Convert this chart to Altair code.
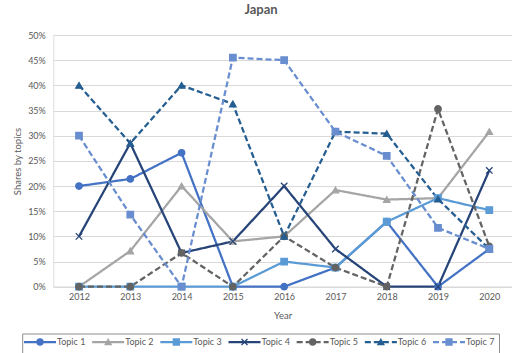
import altair as alt
import pandas as pd

# Shares of each topic per year (fractions of 1)
years = ["2012", "2013", "2014", "2015", "2016", "2017", "2018", "2019", "2020"]
topics = ["Topic 1", "Topic 2", "Topic 3", "Topic 4", "Topic 5", "Topic 6", "Topic 7"]

topic_1 = [0.200, 0.214, 0.266, 0.000, 0.000, 0.038, 0.129, 0.000, 0.075]
topic_2 = [0.000, 0.071, 0.200, 0.090, 0.100, 0.192, 0.173, 0.176, 0.308]
topic_3 = [0.000, 0.000, 0.000, 0.000, 0.050, 0.038, 0.129, 0.176, 0.152]
topic_4 = [0.100, 0.285, 0.067, 0.090, 0.200, 0.075, 0.000, 0.000, 0.231]
topic_5 = [0.000, 0.000, 0.067, 0.000, 0.100, 0.038, 0.000, 0.353, 0.080]
topic_6 = [0.400, 0.285, 0.400, 0.363, 0.100, 0.308, 0.304, 0.174, 0.075]
topic_7 = [0.300, 0.143, 0.000, 0.455, 0.450, 0.308, 0.260, 0.117, 0.075]

series = [topic_1, topic_2, topic_3, topic_4, topic_5, topic_6, topic_7]

y_ticks = [0, 0.05, 0.10, 0.15, 0.20, 0.25, 0.30, 0.35, 0.40, 0.45, 0.50]

colors = ["#4472C4", "#A5A5A5", "#5B9BD5", "#264478", "#636363", "#255E91", "#698ED0"]
shapes = ["circle", "triangle-up", "square", "M-1,-1L1,1M-1,1L1,-1",
          "circle", "triangle-up", "square"]
dashes = [[1, 0], [1, 0], [1, 0], [1, 0], [6, 3], [6, 3], [6, 3]]

FONT = "Lato"
TEXT_GREY = "#595959"
GRID_GREY = "#D9D9D9"

rows = []
for name, values in zip(topics, series):
    for yr, v in zip(years, values):
        rows.append({"year": yr, "topic": name, "share": v})
df = pd.DataFrame(rows)
legend_df = pd.DataFrame({"topic": topics})

color_scale = alt.Scale(domain=topics, range=colors)
shape_scale = alt.Scale(domain=topics, range=shapes)
dash_scale = alt.Scale(domain=topics, range=dashes)

x_scale = alt.Scale(type="point", padding=0.472, align=0.531)
y_scale = alt.Scale(domain=[0, 0.5])

x_axis = alt.Axis(
    title="Year", labelAngle=0, ticks=False, grid=False,
    domainColor=GRID_GREY, labelColor=TEXT_GREY, labelFontSize=9,
    labelPadding=6, titleFontSize=9.5, titleColor=TEXT_GREY,
    titleFontWeight="normal", titleY=29, titleBaseline="middle",
)
y_axis = alt.Axis(
    title="Shares by topics", format=".0%", values=y_ticks,
    grid=True, gridColor=GRID_GREY, domain=False, ticks=False,
    labelOverlap=False, labelColor=TEXT_GREY, labelFontSize=9, labelPadding=8,
    titleFontSize=9.5, titleColor=TEXT_GREY, titleFontWeight="normal",
    titleX=-36, titleY=126, titleAngle=-90, titleBaseline="middle",
    titleAlign="center",
)

base = alt.Chart(df)

lines = base.mark_line(strokeWidth=2.25).encode(
    x=alt.X("year:O", scale=x_scale, axis=x_axis),
    y=alt.Y("share:Q", scale=y_scale, axis=y_axis),
    color=alt.Color("topic:N", scale=color_scale, legend=None),
    strokeDash=alt.StrokeDash("topic:N", scale=dash_scale, legend=None),
)

points = base.mark_point(filled=True, size=42, strokeWidth=1.3, opacity=1).encode(
    x=alt.X("year:O", scale=x_scale, axis=x_axis),
    y=alt.Y("share:Q", scale=y_scale, axis=y_axis),
    color=alt.Color("topic:N", scale=color_scale, legend=None),
    stroke=alt.Stroke("topic:N", scale=color_scale, legend=None),
    shape=alt.Shape("topic:N", scale=shape_scale, legend=None),
)

plot = alt.layer(lines, points)

# Legend row below the plot, laid out on its own point scale of topics
leg_x = alt.X("topic:N", scale=alt.Scale(type="point", domain=topics,
                                         range=[-13.3, 395.7], padding=0),
              axis=None)
LEG_Y = 307

leg_lines = alt.Chart(legend_df).mark_rule(strokeWidth=2.25, xOffset=-16, x2Offset=16).encode(
    x=leg_x,
    x2=alt.X2("topic:N"),
    y=alt.value(LEG_Y),
    color=alt.Color("topic:N", scale=color_scale, legend=None),
    strokeDash=alt.StrokeDash("topic:N", scale=dash_scale, legend=None),
)
leg_points = alt.Chart(legend_df).mark_point(filled=True, size=36, strokeWidth=1.3, opacity=1).encode(
    x=leg_x,
    y=alt.value(LEG_Y),
    color=alt.Color("topic:N", scale=color_scale, legend=None),
    stroke=alt.Stroke("topic:N", scale=color_scale, legend=None),
    shape=alt.Shape("topic:N", scale=shape_scale, legend=None),
)
leg_text = alt.Chart(legend_df).mark_text(
    align="left", baseline="middle", dx=17, fontSize=9, color=TEXT_GREY, font=FONT
).encode(x=leg_x, y=alt.value(LEG_Y), text="topic:N")

leg_box = alt.Chart(pd.DataFrame({"box": [0]})).mark_rect(
    filled=False, stroke="#8C8C8C", strokeWidth=1
).encode(x=alt.value(-30.6), x2=alt.value(446.2), y=alt.value(299), y2=alt.value(320))

legend = alt.layer(leg_box, leg_lines, leg_points, leg_text)

chart = (
    alt.layer(plot, legend)
    .resolve_scale(x="independent")
    .properties(
        width=458.7,
        height=251.7,
        title=alt.TitleParams("Japan", fontSize=13, fontWeight="bold", color=TEXT_GREY,
                              font=FONT, anchor="middle", frame="group", dx=-21.6, offset=14),
        autosize=alt.AutoSizeParams(type="none"),
        padding={"left": 53.3, "top": 35, "right": 0, "bottom": 66.3},
        background="white",
    )
    .configure_view(stroke=None)
    .configure(font=FONT)
)

chart.save("out.html", embed_options={"renderer": "svg", "actions": False})
